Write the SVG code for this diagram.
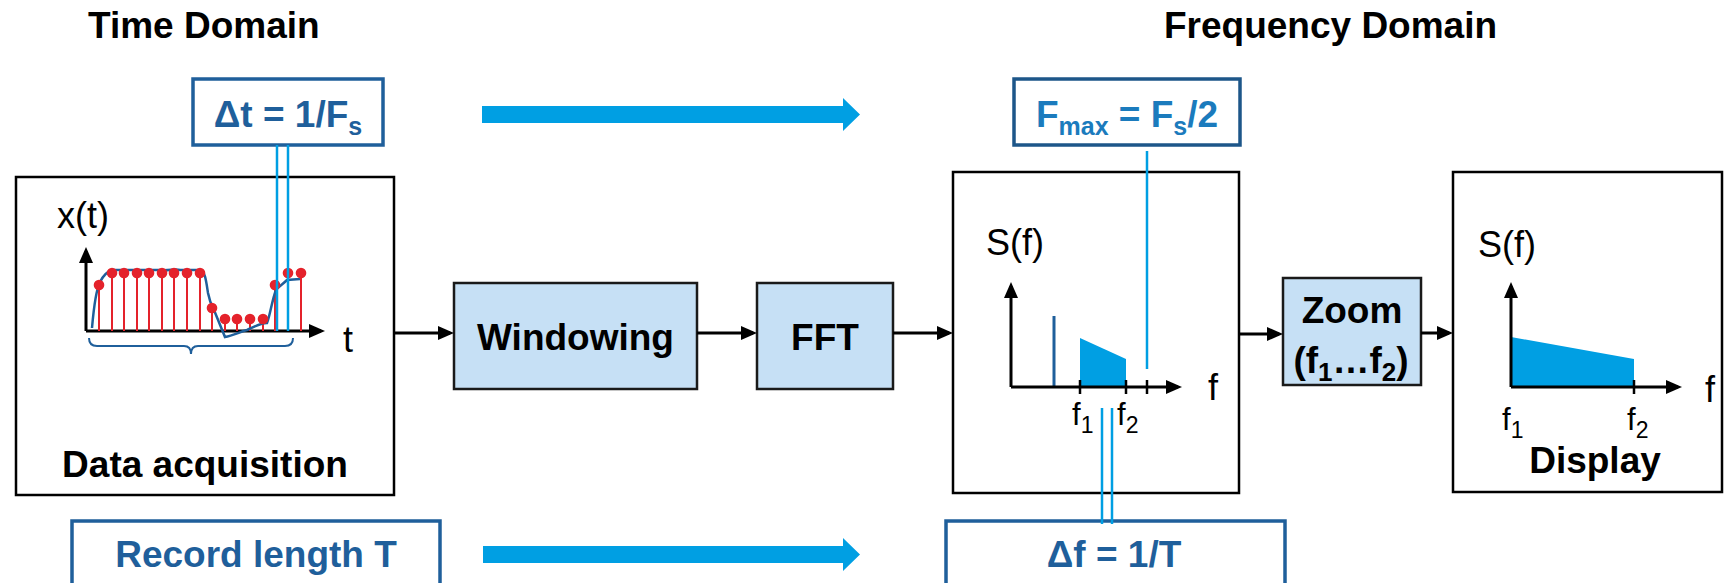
<svg xmlns="http://www.w3.org/2000/svg" width="1725" height="583" viewBox="0 0 1725 583">
  <style>
    .hdr { font-family: "Liberation Sans", Arial, sans-serif; font-weight: bold; font-size: 37px; fill: #000; }
    .lbl { font-family: "Liberation Sans", Arial, sans-serif; font-weight: bold; font-size: 37px; fill: #000; text-anchor: middle; }
    .par { font-family: "Liberation Sans", Arial, sans-serif; font-weight: bold; font-size: 37px; fill: #1f5f9b; text-anchor: middle; }
    .par2 { font-family: "Liberation Sans", Arial, sans-serif; font-weight: bold; font-size: 37px; fill: #1b7bbd; text-anchor: middle; }
    .ax { font-family: "Liberation Sans", Arial, sans-serif; font-size: 36px; fill: #000; }
    .tick { font-family: "Liberation Sans", Arial, sans-serif; font-size: 31px; fill: #000; }
    .frame { fill: #fff; stroke: #000; stroke-width: 2.5; }
    .proc { fill: #c6e0f5; stroke: #1a1a1a; stroke-width: 2.5; }
    .pbox { fill: #fff; stroke: #1f5f9b; stroke-width: 3.5; }
    .pbox2 { fill: #fff; stroke: #1d5689; stroke-width: 3.5; }
    .link { stroke: #000; stroke-width: 3; fill: none; marker-end: url(#ah); }
    .axis { stroke: #000; stroke-width: 3; fill: none; marker-end: url(#ah); }
    .guide { stroke: #009fe3; stroke-width: 2.5; fill: none; }
    .stem { stroke: #e4222b; stroke-width: 2; }
    .dot { fill: #e4222b; }
    .band { fill: #009fe3; }
    .tk { stroke: #000; stroke-width: 2.5; }
    .bigarrow { fill: #009fe3; }
  </style>
  <defs>
    <marker id="ah" markerUnits="userSpaceOnUse" markerWidth="16" markerHeight="16" viewBox="0 0 16 16" refX="12" refY="8" orient="auto">
      <path d="M0,1 L16,8 L0,15 Z" fill="#000"/>
    </marker>
  </defs>

  <rect width="1725" height="583" fill="#fff"/>

  <!-- headings -->
  <text class="hdr" x="88" y="38">Time Domain</text>
  <text class="hdr" x="1164" y="38">Frequency Domain</text>

  <!-- wide blue direction arrows -->
  <polygon class="bigarrow" points="482,106 843,106 843,98 860,114.5 843,131 843,123 482,123"/>
  <polygon class="bigarrow" points="483,546 843,546 843,538 860,554.5 843,571 843,563 483,563"/>

  <!-- sampling interval parameter -->
  <g id="delta-t">
    <rect class="pbox" x="193" y="79" width="190" height="66"/>
    <text class="par" x="288" y="127">Δt = 1/F<tspan font-size="25" dy="8">s</tspan></text>
  </g>

  <!-- maximum frequency parameter -->
  <g id="f-max">
    <rect class="pbox2" x="1014" y="79" width="226" height="66"/>
    <text class="par2" x="1127" y="127">F<tspan font-size="25" dy="8">max</tspan><tspan dy="-8"> = F</tspan><tspan font-size="25" dy="8">s</tspan><tspan dy="-8">/2</tspan></text>
  </g>

  <!-- record length parameter -->
  <g id="record-length">
    <rect class="pbox" x="72" y="521" width="368" height="90"/>
    <text class="par" x="256" y="567">Record length T</text>
  </g>

  <!-- frequency resolution parameter -->
  <g id="delta-f">
    <rect class="pbox" x="946" y="521" width="339" height="90"/>
    <text class="par" x="1114" y="567">Δf = 1/T</text>
  </g>

  <!-- data acquisition -->
  <g id="data-acquisition">
    <rect class="frame" x="16" y="177" width="378" height="318"/>
    <text class="ax" x="57" y="228">x(t)</text>
    <text class="ax" x="343" y="352">t</text>
    <line class="axis" x1="86" y1="331" x2="86" y2="251"/>
    <line class="axis" x1="86" y1="331" x2="321" y2="331"/>
    <!-- sample stems -->
    <g>
      <line class="stem" x1="99" y1="331" x2="99" y2="285"/>
      <line class="stem" x1="112" y1="331" x2="112" y2="273"/>
      <line class="stem" x1="124" y1="331" x2="124" y2="273"/>
      <line class="stem" x1="137" y1="331" x2="137" y2="273"/>
      <line class="stem" x1="149" y1="331" x2="149" y2="273"/>
      <line class="stem" x1="162" y1="331" x2="162" y2="273"/>
      <line class="stem" x1="174" y1="331" x2="174" y2="273"/>
      <line class="stem" x1="187" y1="331" x2="187" y2="273"/>
      <line class="stem" x1="200" y1="331" x2="200" y2="273"/>
      <line class="stem" x1="212" y1="331" x2="212" y2="308"/>
      <line class="stem" x1="225" y1="331" x2="225" y2="319"/>
      <line class="stem" x1="237" y1="331" x2="237" y2="319"/>
      <line class="stem" x1="250" y1="331" x2="250" y2="319"/>
      <line class="stem" x1="263" y1="331" x2="263" y2="319"/>
      <line class="stem" x1="275" y1="331" x2="275" y2="285"/>
      <line class="stem" x1="288" y1="331" x2="288" y2="273"/>
      <line class="stem" x1="301" y1="331" x2="301" y2="273"/>
    </g>
    <!-- continuous signal -->
    <path d="M92,328 C94,305 96,290 100,282 C103,276 106,272 112,270 L160,270 C170,271 175,268 180,270 L200,270 C205,271 206,280 208,293 C210,303 212,306 214,310 L225,337 C232,336 240,332 247,330 C254,327 260,323 267,323 C270,316 272,300 276,290 C279,286 282,285 287,280 L300,279" fill="none" stroke="#1f5f9b" stroke-width="2.5"/>
    <g>
      <circle class="dot" cx="99" cy="285" r="5.3"/>
      <circle class="dot" cx="112" cy="273" r="5.3"/>
      <circle class="dot" cx="124" cy="273" r="5.3"/>
      <circle class="dot" cx="137" cy="273" r="5.3"/>
      <circle class="dot" cx="149" cy="273" r="5.3"/>
      <circle class="dot" cx="162" cy="273" r="5.3"/>
      <circle class="dot" cx="174" cy="273" r="5.3"/>
      <circle class="dot" cx="187" cy="273" r="5.3"/>
      <circle class="dot" cx="200" cy="273" r="5.3"/>
      <circle class="dot" cx="212" cy="308" r="5.3"/>
      <circle class="dot" cx="225" cy="319" r="5.3"/>
      <circle class="dot" cx="237" cy="319" r="5.3"/>
      <circle class="dot" cx="250" cy="319" r="5.3"/>
      <circle class="dot" cx="263" cy="319" r="5.3"/>
      <circle class="dot" cx="275" cy="285" r="5.3"/>
      <circle class="dot" cx="288" cy="273" r="5.3"/>
      <circle class="dot" cx="301" cy="273" r="5.3"/>
    </g>
    <!-- record length brace -->
    <path d="M89,338 Q89,346 97,346 L184,346 Q191,346 191,354 Q191,346 198,346 L285,346 Q293,346 293,338" fill="none" stroke="#1f5f9b" stroke-width="2"/>
    <text class="lbl" x="205" y="477">Data acquisition</text>
  </g>

  <!-- windowing -->
  <g id="windowing">
    <rect class="proc" x="454" y="283" width="243" height="106"/>
    <text class="lbl" x="575.5" y="350">Windowing</text>
  </g>

  <!-- FFT -->
  <g id="fft">
    <rect class="proc" x="757" y="283" width="136" height="106"/>
    <text class="lbl" x="825" y="350">FFT</text>
  </g>

  <!-- spectrum -->
  <g id="spectrum">
    <rect class="frame" x="953" y="172" width="286" height="321"/>
    <text class="ax" x="986" y="255">S(f)</text>
    <text class="ax" x="1208" y="400">f</text>
    <line x1="1054" y1="316" x2="1054" y2="387" stroke="#1f5f9b" stroke-width="3"/>
    <polygon class="band" points="1080,387 1080,338 1126,359 1126,387"/>
    <line class="axis" x1="1011" y1="387" x2="1011" y2="286"/>
    <line class="axis" x1="1011" y1="387" x2="1178" y2="387"/>
    <line class="tk" x1="1080" y1="380" x2="1080" y2="394"/>
    <line class="tk" x1="1126" y1="380" x2="1126" y2="394"/>
    <line class="tk" x1="1147" y1="380" x2="1147" y2="394"/>
    <text class="tick" x="1072" y="425">f<tspan font-size="23" dy="8">1</tspan></text>
    <text class="tick" x="1117" y="425">f<tspan font-size="23" dy="8">2</tspan></text>
  </g>

  <!-- zoom -->
  <g id="zoom">
    <rect class="proc" x="1283" y="278" width="138" height="107"/>
    <text class="lbl" x="1352" y="323">Zoom</text>
    <text class="lbl" x="1351" y="373">(f<tspan font-size="26" dy="8">1</tspan><tspan dy="-8">…f</tspan><tspan font-size="26" dy="8">2</tspan><tspan dy="-8">)</tspan></text>
  </g>

  <!-- display -->
  <g id="display">
    <rect class="frame" x="1453" y="172" width="269" height="320"/>
    <text class="ax" x="1478" y="257">S(f)</text>
    <text class="ax" x="1705" y="402">f</text>
    <polygon class="band" points="1511,387 1511,337 1634,359 1634,387"/>
    <line class="axis" x1="1511" y1="387" x2="1511" y2="286"/>
    <line class="axis" x1="1511" y1="387" x2="1678" y2="387"/>
    <line class="tk" x1="1634" y1="380" x2="1634" y2="394"/>
    <text class="tick" x="1502" y="430">f<tspan font-size="23" dy="8">1</tspan></text>
    <text class="tick" x="1627" y="430">f<tspan font-size="23" dy="8">2</tspan></text>
    <text class="lbl" x="1595" y="473">Display</text>
  </g>

  <!-- connectors, drawn last so the guide lines sit over the frames -->
  <g id="connectors">
    <line class="link" x1="394" y1="333" x2="450" y2="333"/>
    <line class="link" x1="697" y1="333" x2="753" y2="333"/>
    <line class="link" x1="893" y1="333" x2="949" y2="333"/>
    <line class="link" x1="1240" y1="334" x2="1279" y2="334"/>
    <line class="link" x1="1421" y1="333" x2="1449" y2="333"/>
    <!-- sample interval guides -->
    <line class="guide" x1="277" y1="145" x2="277" y2="331"/>
    <line class="guide" x1="288" y1="145" x2="288" y2="331"/>
    <!-- Nyquist guide -->
    <line class="guide" x1="1147" y1="151" x2="1147" y2="369"/>
    <!-- resolution guides -->
    <line class="guide" x1="1102" y1="408" x2="1102" y2="524"/>
    <line class="guide" x1="1112" y1="408" x2="1112" y2="524"/>
  </g>
</svg>
